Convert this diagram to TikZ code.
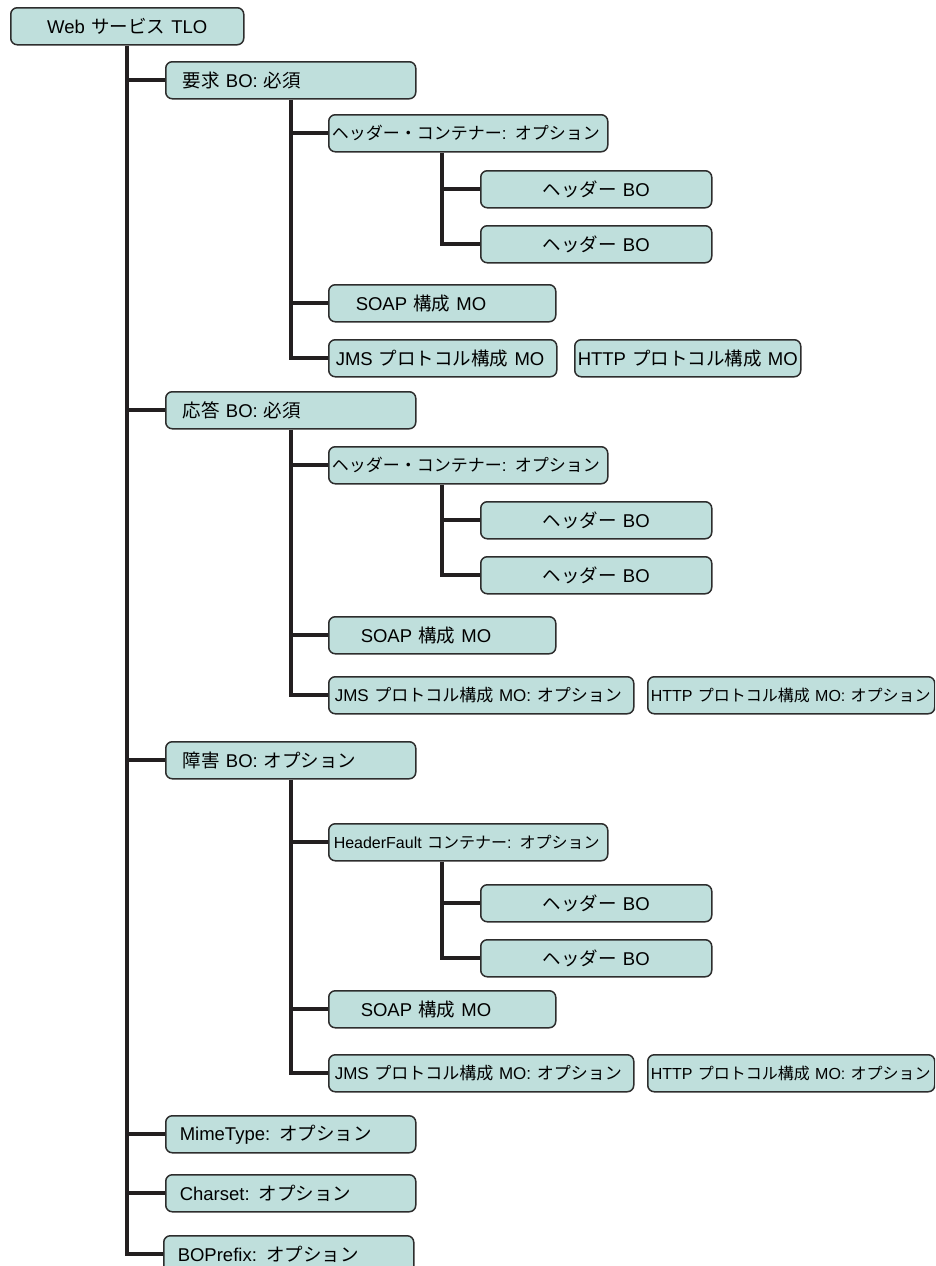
\documentclass[tikz,border=0pt]{standalone}
\usepackage{fontspec}
\setmainfont{Liberation Sans}
\newfontfamily\jp{Noto Sans CJK JP}
\newcommand\ja[1]{{\jp #1}}
\definecolor{boxfill}{RGB}{191,223,220}
\definecolor{boxline}{RGB}{45,45,45}
\definecolor{wireblack}{RGB}{35,31,32}

\begin{document}
\begin{tikzpicture}[x=1pt,y=-1pt]
\tikzstyle{box}=[draw=boxline,fill=boxfill,line width=1.5pt,rounded corners=6.5pt,anchor=north west,minimum height=37pt,inner ysep=0pt,align=left,font=\fontsize{18.5}{21}\selectfont]
\tikzstyle{mid}=[font=\fontsize{17}{20}\selectfont]
\tikzstyle{small}=[font=\fontsize{16}{19}\selectfont]
\tikzstyle{wire}=[draw=wireblack,line width=4pt]
\useasboundingbox (0,0) rectangle (935,1266);
\clip (0,0) rectangle (935,1266);

% top level object
\node[box,align=center,text width=223pt,inner xsep=5pt] (tlo) at (10,7) {Web \ja{サービス} TLO};

% request
\node[box,text width=216pt,inner xsep=17pt] (req) at (165,61) {\ja{要求} BO: \ja{必須}};
\node[box,mid,text width=273pt,inner xsep=3pt] (reqhc) at (328,114) {\ja{ヘッダー・コンテナー}: \ja{オプション}};
\node[box,align=center,text width=221pt,inner xsep=5pt] (reqh1) at (480,170) {\ja{ヘッダー} BO};
\node[box,align=center,text width=221pt,inner xsep=5pt] (reqh2) at (480,225) {\ja{ヘッダー} BO};
\node[box,text width=173pt,inner xsep=27pt] (reqsoap) at (328,284) {SOAP \ja{構成} MO};
\node[box,text width=214pt,inner xsep=7pt] (reqjms) at (328,339) {JMS \ja{プロトコル構成} MO};
\node[box,text width=220pt,inner xsep=3pt] (reqhttp) at (574,339) {HTTP \ja{プロトコル構成} MO};

% response
\node[box,text width=216pt,inner xsep=17pt] (res) at (165,391) {\ja{応答} BO: \ja{必須}};
\node[box,mid,text width=273pt,inner xsep=3pt] (reshc) at (328,446) {\ja{ヘッダー・コンテナー}: \ja{オプション}};
\node[box,align=center,text width=221pt,inner xsep=5pt] (resh1) at (480,501) {\ja{ヘッダー} BO};
\node[box,align=center,text width=221pt,inner xsep=5pt] (resh2) at (480,556) {\ja{ヘッダー} BO};
\node[box,text width=163pt,inner xsep=32pt] (ressoap) at (328,616) {SOAP \ja{構成} MO};
\node[box,mid,text width=293pt,inner xsep=6pt] (resjms) at (328,676) {JMS \ja{プロトコル構成} MO: \ja{オプション}};
\node[box,small,text width=281pt,inner xsep=3pt] (reshttp) at (647,676) {HTTP \ja{プロトコル構成} MO: \ja{オプション}};

% fault
\node[box,text width=216pt,inner xsep=17pt] (flt) at (165,741) {\ja{障害} BO: \ja{オプション}};
\node[box,small,text width=269pt,inner xsep=5pt] (flthc) at (328,823) {HeaderFault \ja{コンテナー}: \ja{オプション}};
\node[box,align=center,text width=221pt,inner xsep=5pt] (flth1) at (480,884) {\ja{ヘッダー} BO};
\node[box,align=center,text width=221pt,inner xsep=5pt] (flth2) at (480,939) {\ja{ヘッダー} BO};
\node[box,text width=163pt,inner xsep=32pt] (fltsoap) at (328,990) {SOAP \ja{構成} MO};
\node[box,mid,text width=293pt,inner xsep=6pt] (fltjms) at (328,1054) {JMS \ja{プロトコル構成} MO: \ja{オプション}};
\node[box,small,text width=281pt,inner xsep=3pt] (flthttp) at (647,1054) {HTTP \ja{プロトコル構成} MO: \ja{オプション}};

% other fields
\node[box,text width=222pt,inner xsep=14pt] (mime) at (165,1115) {MimeType: \ja{オプション}};
\node[box,text width=222pt,inner xsep=14pt] (charset) at (165,1174) {Charset: \ja{オプション}};
\node[box,text width=222pt,inner xsep=14pt] (bopfx) at (163,1235) {BOPrefix: \ja{オプション}};

% trunk
\draw[wire] (tlo.south) |- (bopfx.west);
\draw[wire] (tlo.south |- req.west) -- (req.west);
\draw[wire] (tlo.south |- res.west) -- (res.west);
\draw[wire] (tlo.south |- flt.west) -- (flt.west);
\draw[wire] (tlo.south |- mime.west) -- (mime.west);
\draw[wire] (tlo.south |- charset.west) -- (charset.west);

% request branches
\draw[wire] (req.south) |- (reqjms.west);
\draw[wire] (req.south |- reqhc.west) -- (reqhc.west);
\draw[wire] (req.south |- reqsoap.west) -- (reqsoap.west);
\coordinate (reqfoot) at ([xshift=114pt]reqhc.south west);
\draw[wire] (reqfoot) |- (reqh2.west);
\draw[wire] (reqfoot |- reqh1.west) -- (reqh1.west);

% response branches
\draw[wire] (res.south) |- (resjms.west);
\draw[wire] (res.south |- reshc.west) -- (reshc.west);
\draw[wire] (res.south |- ressoap.west) -- (ressoap.west);
\coordinate (resfoot) at ([xshift=114pt]reshc.south west);
\draw[wire] (resfoot) |- (resh2.west);
\draw[wire] (resfoot |- resh1.west) -- (resh1.west);

% fault branches
\draw[wire] (flt.south) |- (fltjms.west);
\draw[wire] (flt.south |- flthc.west) -- (flthc.west);
\draw[wire] (flt.south |- fltsoap.west) -- (fltsoap.west);
\coordinate (fltfoot) at ([xshift=114pt]flthc.south west);
\draw[wire] (fltfoot) |- (flth2.west);
\draw[wire] (fltfoot |- flth1.west) -- (flth1.west);
\end{tikzpicture}
\end{document}
